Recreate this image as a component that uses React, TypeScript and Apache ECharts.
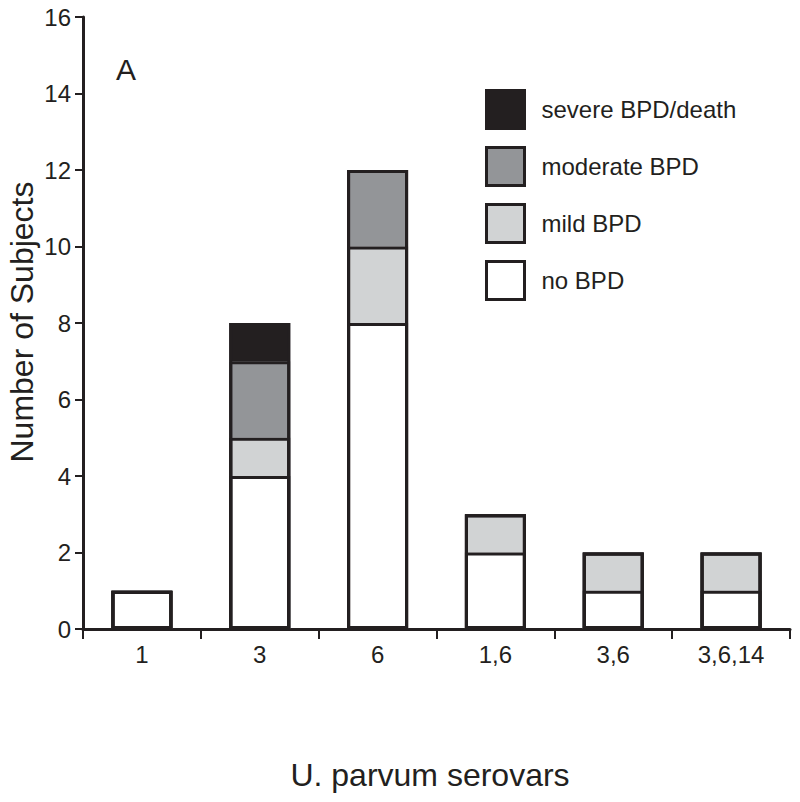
import React, { useEffect, useRef } from "react";
import * as echarts from "echarts";

const categories = ["1", "3", "6", "1,6", "3,6", "3,6,14"];
const noBPD = [1, 4, 8, 2, 1, 1];
const mildBPD = [0, 1, 2, 1, 1, 1];
const moderateBPD = [0, 2, 2, 0, 0, 0];
const severeBPD = [0, 1, 0, 0, 0, 0];
const seriesNames = ["no BPD", "mild BPD", "moderate BPD", "severe BPD/death"];
const legendOrder = ["severe BPD/death", "moderate BPD", "mild BPD", "no BPD"];
const colors = ["#ffffff", "#d1d3d4", "#939598", "#231f20"];

const FONT = "'Liberation Sans', Arial, Helvetica, sans-serif";
const INK = "#231f20";
const BAR_W = 61;

export default function App() {
  const ref = useRef<HTMLDivElement>(null);
  useEffect(() => {
    if (!ref.current) return;
    const chart = echarts.init(ref.current, undefined, { renderer: "svg" });
    const allData = [noBPD, mildBPD, moderateBPD, severeBPD];
    const stackSeries = seriesNames.map((name, i) => ({
      name,
      type: "bar",
      stack: "total",
      barWidth: BAR_W,
      data: allData[i].map((v) => (v === 0 ? null : v)),
      itemStyle: { color: colors[i], borderWidth: 0 },
      z: 2,
    }));
    // cumulative outlines give one crisp divider at each segment top
    const outlineSeries = allData.map((_, k) => ({
      name: "outline" + k,
      type: "bar",
      barWidth: BAR_W,
      barGap: "-100%",
      silent: true,
      data: categories.map((__, j) => {
        let s = 0;
        for (let m = 0; m <= k; m++) s += allData[m][j];
        return s;
      }),
      itemStyle: { color: "rgba(0,0,0,0)", borderColor: INK, borderWidth: 3 },
      z: 3,
    }));
    chart.setOption({
      animation: false,
      backgroundColor: "#ffffff",
      textStyle: { fontFamily: FONT },
      grid: { left: 83, right: 10, top: 17, bottom: 173 },
      legend: {
        data: legendOrder,
        orient: "vertical",
        left: 485,
        top: 89,
        padding: 0,
        itemWidth: 38,
        itemHeight: 38,
        itemGap: 16,
        icon: "rect",
        itemStyle: { borderColor: INK, borderWidth: 3 },
        textStyle: { fontSize: 24, color: INK, fontFamily: FONT, padding: [0, 0, 0, 12] },
        selectedMode: false,
      },
      xAxis: {
        type: "category",
        data: categories,
        axisLine: { lineStyle: { color: INK, width: 3 } },
        axisTick: { show: true, length: 10, lineStyle: { color: INK, width: 2 } },
        axisLabel: { fontSize: 24, color: INK, margin: 13, fontFamily: FONT },
      },
      yAxis: {
        type: "value",
        min: 0,
        max: 16,
        interval: 2,
        splitLine: { show: false },
        axisLine: { show: true, lineStyle: { color: INK, width: 3 } },
        axisTick: { show: true, length: 8, lineStyle: { color: INK, width: 2 } },
        axisLabel: { fontSize: 24, color: INK, margin: 12, fontFamily: FONT },
      },
      graphic: [
        {
          type: "text",
          left: 116,
          top: 54,
          style: { text: "A", fontSize: 30, fill: INK, fontFamily: FONT },
        },
        {
          type: "text",
          x: 22,
          y: 322,
          rotation: Math.PI / 2,
          style: {
            text: "Number of Subjects",
            fontSize: 32,
            fill: INK,
            fontFamily: FONT,
            align: "center",
            verticalAlign: "middle",
          },
        },
        {
          type: "text",
          x: 430,
          y: 775,
          style: {
            text: "U. parvum serovars",
            fontSize: 32,
            fill: INK,
            fontFamily: FONT,
            align: "center",
            verticalAlign: "middle",
          },
        },
      ],
      series: [...stackSeries, ...outlineSeries],
    });
    return () => chart.dispose();
  }, []);
  return <div ref={ref} style={{ width: 800, height: 802, margin: -8 }} />;
}
